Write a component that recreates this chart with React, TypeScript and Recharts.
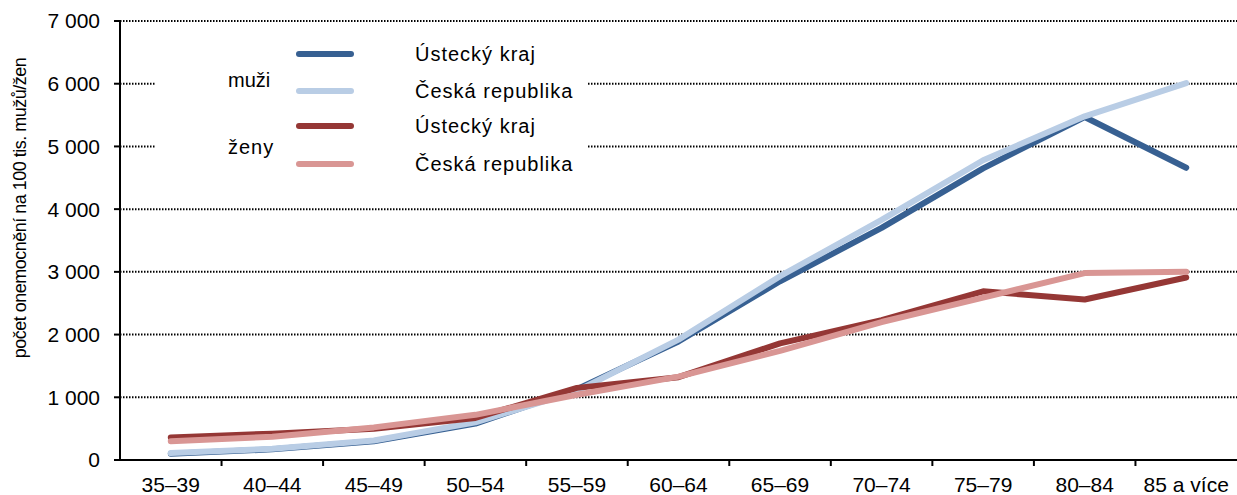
import { CartesianGrid, Legend, Line, LineChart, XAxis, YAxis } from "recharts";

const FONT = '"Liberation Sans", Arial, sans-serif';

const CATEGORIES = ["35–39", "40–44", "45–49", "50–54", "55–59", "60–64", "65–69", "70–74", "75–79", "80–84", "85 a více"];
const MEN_USTI = [100, 170, 300, 580, 1130, 1890, 2850, 3700, 4650, 5470, 4660];
const MEN_CR = [110, 180, 310, 600, 1100, 1920, 2930, 3830, 4780, 5480, 6010];
const WOMEN_USTI = [360, 420, 500, 670, 1150, 1320, 1860, 2230, 2690, 2560, 2910];
const WOMEN_CR = [300, 370, 520, 720, 1040, 1330, 1740, 2200, 2590, 2980, 3000];
const Y_TICKS = [0, 1000, 2000, 3000, 4000, 5000, 6000, 7000];

const DARK_BLUE = "#376092";
const LIGHT_BLUE = "#b9cde5";
const DARK_RED = "#953735";
const PINK = "#d99694";

const data = CATEGORIES.map((age, i) => ({
  age,
  menUsti: MEN_USTI[i],
  menCr: MEN_CR[i],
  womenUsti: WOMEN_USTI[i],
  womenCr: WOMEN_CR[i],
}));

const WIDTH = 1237;
const HEIGHT = 495;
const Y_AXIS_W = 120;
const BAND = (WIDTH - Y_AXIS_W) / CATEGORIES.length;

const fmt = (v: number) => {
  const s = String(v);
  return s.length > 3 ? s.slice(0, -3) + "\u00a0" + s.slice(-3) : s;
};

function XTick(props: any) {
  const { x, y, payload, index } = props;
  return (
    <g>
      {index < CATEGORIES.length - 1 && (
        <line x1={x + BAND / 2} x2={x + BAND / 2} y1={y} y2={y + 6} stroke="#000" strokeWidth={2} />
      )}
      <text x={x} y={y + 32} textAnchor="middle" fontSize={21} fontFamily={FONT} fill="#000">
        {payload.value}
      </text>
    </g>
  );
}

function renderLegend() {
  const rows = [
    { color: DARK_BLUE, label: "Ústecký kraj", y: 29 },
    { color: LIGHT_BLUE, label: "Česká republika", y: 66 },
    { color: DARK_RED, label: "Ústecký kraj", y: 101 },
    { color: PINK, label: "Česká republika", y: 139 },
  ];
  return (
    <svg width={433} height={160} style={{ display: "block", fontFamily: FONT }}>
      <text x={73} y={55} fontSize={20} fill="#000" dominantBaseline="central">muži</text>
      <text x={73} y={122} fontSize={20} fill="#000" dominantBaseline="central" letterSpacing={1}>ženy</text>
      {rows.map((r, i) => (
        <g key={i}>
          <line x1={144} x2={196} y1={r.y} y2={r.y} stroke={r.color} strokeWidth={6} strokeLinecap="round" />
          <text x={260} y={r.y} fontSize={20} fill="#000" dominantBaseline="central" letterSpacing={1}>{r.label}</text>
        </g>
      ))}
    </svg>
  );
}

function YLabel() {
  return (
    <text
      x={20}
      y={208}
      transform="rotate(-90 20 208)"
      textAnchor="middle"
      dominantBaseline="central"
      fontSize={18}
      letterSpacing={-0.5}
      fontFamily={FONT}
      fill="#000"
    >
      počet onemocnění na 100 tis. mužů/žen
    </text>
  );
}

export default function App() {
  return (
    <div style={{ position: "absolute", left: 0, top: 0, width: WIDTH, height: HEIGHT, background: "#fff", overflow: "hidden" }}>
      <LineChart width={WIDTH} height={HEIGHT} data={data} margin={{ top: 21, right: 0, bottom: 0, left: 0 }}>
        <CartesianGrid vertical={false} stroke="#000" strokeWidth={2} strokeDasharray="1.5 1.5" />
        <XAxis
          dataKey="age"
          scale="band"
          height={35}
          interval={0}
          tickSize={0}
          tickMargin={0}
          tickLine={false}
          axisLine={{ stroke: "#000", strokeWidth: 2 }}
          tick={<XTick />}
        />
        <YAxis
          width={Y_AXIS_W}
          domain={[0, 7000]}
          ticks={Y_TICKS}
          interval={0}
          tickFormatter={fmt}
          tickSize={6}
          tickMargin={14}
          tickLine={{ stroke: "#000", strokeWidth: 2 }}
          axisLine={{ stroke: "#000", strokeWidth: 2 }}
          tick={{ fill: "#000", fontSize: 21, fontFamily: FONT }}
          label={() => <YLabel />}
        />
        <Legend
          layout="vertical"
          align="center"
          verticalAlign="middle"
          content={renderLegend}
          wrapperStyle={{ position: "absolute", left: 155, top: 25, width: 433, height: 160, background: "#fff" }}
        />
        <Line dataKey="menUsti" name="muži – Ústecký kraj" stroke={DARK_BLUE} strokeWidth={6} strokeLinecap="round" strokeLinejoin="round" dot={false} activeDot={false} isAnimationActive={false} />
        <Line dataKey="menCr" name="muži – Česká republika" stroke={LIGHT_BLUE} strokeWidth={6} strokeLinecap="round" strokeLinejoin="round" dot={false} activeDot={false} isAnimationActive={false} />
        <Line dataKey="womenUsti" name="ženy – Ústecký kraj" stroke={DARK_RED} strokeWidth={6} strokeLinecap="round" strokeLinejoin="round" dot={false} activeDot={false} isAnimationActive={false} />
        <Line dataKey="womenCr" name="ženy – Česká republika" stroke={PINK} strokeWidth={6} strokeLinecap="round" strokeLinejoin="round" dot={false} activeDot={false} isAnimationActive={false} />
      </LineChart>
    </div>
  );
}
